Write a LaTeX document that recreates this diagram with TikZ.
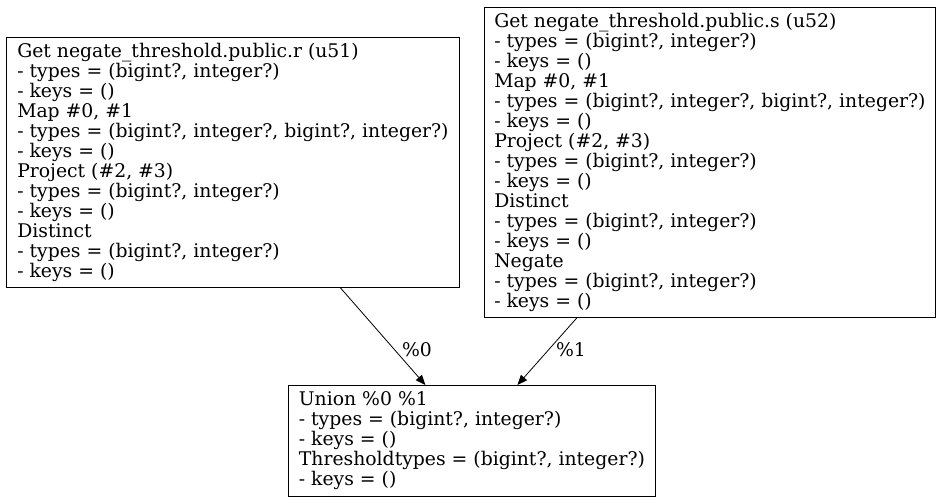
\documentclass[tikz,border=0pt]{standalone}
\usepackage{fontspec}
\setmainfont{DejaVu Serif}
\usetikzlibrary{arrows.meta}
\begin{document}
\begin{tikzpicture}[x=1pt,y=-1pt,
  opbox/.style={draw,line width=0.8pt,anchor=north west,align=left,inner sep=0pt,
    font=\fontsize{18.8}{20}\selectfont},
  edge/.style={draw,line width=0.8pt,-{Triangle[length=10pt,width=8pt]}},
  elabel/.style={font=\fontsize{18.8}{20}\selectfont}]
\useasboundingbox (0,0) rectangle (944,503);
\node[opbox,minimum width=453pt,minimum height=250pt] (a) at (6,37) {Get negate\_threshold.public.r (u51)\\
- types = (bigint?, integer?)\\
- keys = ()\\
Map \#0, \#1\\
- types = (bigint?, integer?, bigint?, integer?)\\
- keys = ()\\
Project (\#2, \#3)\\
- types = (bigint?, integer?)\\
- keys = ()\\
Distinct\\
- types = (bigint?, integer?)\\
- keys = ()};
\node[opbox,minimum width=451pt,minimum height=310pt] (b) at (484,7) {Get negate\_threshold.public.s (u52)\\
- types = (bigint?, integer?)\\
- keys = ()\\
Map \#0, \#1\\
- types = (bigint?, integer?, bigint?, integer?)\\
- keys = ()\\
Project (\#2, \#3)\\
- types = (bigint?, integer?)\\
- keys = ()\\
Distinct\\
- types = (bigint?, integer?)\\
- keys = ()\\
Negate\\
- types = (bigint?, integer?)\\
- keys = ()};
\node[opbox,minimum width=367pt,minimum height=111pt] (c) at (288,385) {Union \%0 \%1\\
- types = (bigint?, integer?)\\
- keys = ()\\
Thresholdtypes = (bigint?, integer?)\\
- keys = ()};
\draw[edge] ([xshift=107.5pt]a.south) -- ([xshift=-46.5pt]c.north);
\draw[edge] ([xshift=-133pt]b.south) -- ([xshift=45.5pt]c.north);
\node[elabel] (l0) at (417,350) {\%0};
\node[elabel] (l1) at (571,350) {\%1};
\end{tikzpicture}
\end{document}
